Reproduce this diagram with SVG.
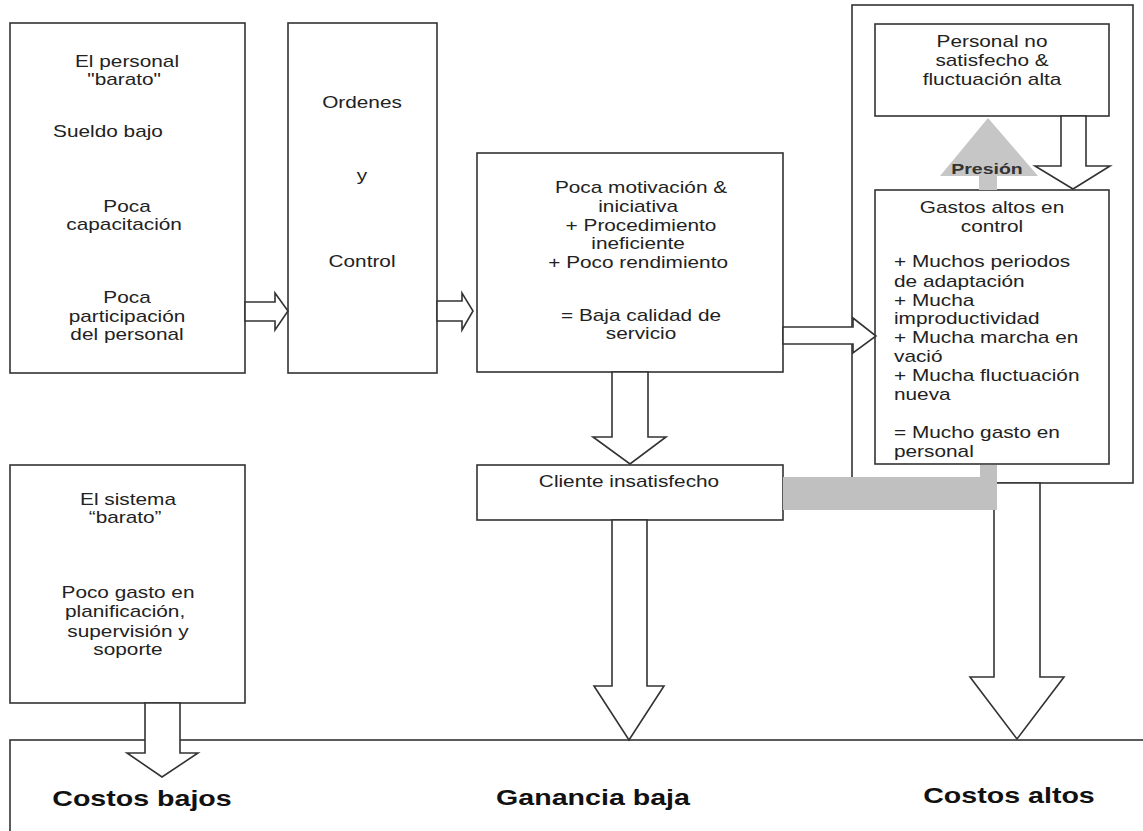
<svg xmlns="http://www.w3.org/2000/svg" width="1143" height="831" viewBox="0 0 1143 831">
<style>
.box{fill:#fff;stroke:#333;stroke-width:1.6}
.arr{fill:#fff;stroke:#333;stroke-width:1.6;stroke-linejoin:miter}
.gray{fill:#c0c0c0;stroke:none}
.t{font-family:"Liberation Sans",Arial,sans-serif;font-size:16px;fill:#222}
.b{font-family:"Liberation Sans",Arial,sans-serif;font-size:22px;font-weight:bold;fill:#111}
.p{font-family:"Liberation Sans",Arial,sans-serif;font-size:15px;font-weight:bold;fill:#333}
</style>
<rect width="1143" height="831" fill="#fff"/>

<g id="resultado">
<rect class="box" x="10" y="740" width="1145" height="100"/>
<g transform="translate(142 0) scale(1.3 1)"><text class="b" text-anchor="middle" x="0" y="806">Costos bajos</text></g>
<g transform="translate(593 0) scale(1.3 1)"><text class="b" text-anchor="middle" x="0" y="805">Ganancia baja</text></g>
<g transform="translate(1009 0) scale(1.3 1)"><text class="b" text-anchor="middle" x="0" y="803">Costos altos</text></g>
</g>

<g id="personal-barato">
<rect class="box" x="10" y="23" width="235" height="350"/>
<g transform="translate(127 0) scale(1.3 1)"><text class="t" text-anchor="middle">
<tspan x="0" y="67">El personal</tspan><tspan x="0" y="85">"barato"</tspan>
<tspan x="0" y="212">Poca</tspan><tspan x="0" y="230">capacitación</tspan>
<tspan x="0" y="303">Poca</tspan><tspan x="0" y="322">participación</tspan><tspan x="0" y="340">del personal</tspan>
</text></g>
<g transform="translate(108 0) scale(1.3 1)"><text class="t" text-anchor="middle" x="0" y="137">Sueldo bajo</text></g>
</g>

<g id="ordenes">
<rect class="box" x="288" y="23" width="149" height="350"/>
<g transform="translate(362 0) scale(1.3 1)"><text class="t" text-anchor="middle">
<tspan x="0" y="108">Ordenes</tspan><tspan x="0" y="181">y</tspan><tspan x="0" y="267">Control</tspan>
</text></g>
</g>

<g id="poca-motivacion">
<rect class="box" x="477" y="153" width="306" height="219"/>
<g transform="translate(641 0) scale(1.3 1)"><text class="t" text-anchor="middle">
<tspan x="0" y="193">Poca motivación &amp;</tspan><tspan x="0" y="212">iniciativa</tspan>
<tspan x="0" y="231">+ Procedimiento</tspan><tspan x="0" y="249">ineficiente</tspan>
<tspan x="0" y="268">+ Poco rendimiento</tspan>
<tspan x="0" y="321">= Baja calidad de</tspan><tspan x="0" y="339">servicio</tspan>
</text></g>
</g>

<g id="marco-derecho">
<rect class="box" x="852" y="5" width="281" height="478"/>
</g>

<g id="cliente">
<rect class="box" x="477" y="465" width="306" height="55"/>
<g transform="translate(629 0) scale(1.3 1)"><text class="t" text-anchor="middle" x="0" y="487">Cliente insatisfecho</text></g>
</g>

<g id="personal-no-satisfecho">
<rect class="box" x="875" y="24" width="234" height="92"/>
<g transform="translate(992 0) scale(1.3 1)"><text class="t" text-anchor="middle">
<tspan x="0" y="47">Personal no</tspan><tspan x="0" y="66">satisfecho &amp;</tspan><tspan x="0" y="85">fluctuación alta</tspan>
</text></g>
</g>

<g id="gastos">
<rect class="box" x="875" y="190" width="234" height="274"/>
<g transform="translate(992 0) scale(1.3 1)"><text class="t" text-anchor="middle">
<tspan x="0" y="213">Gastos altos en</tspan><tspan x="0" y="232">control</tspan>
</text></g>
<g transform="translate(894 0) scale(1.3 1)"><text class="t">
<tspan x="0" y="267">+ Muchos periodos</tspan><tspan x="0" y="287">de adaptación</tspan>
<tspan x="0" y="306">+ Mucha</tspan><tspan x="0" y="324">improductividad</tspan>
<tspan x="0" y="343">+ Mucha marcha en</tspan><tspan x="0" y="362">vació</tspan>
<tspan x="0" y="381">+ Mucha fluctuación</tspan><tspan x="0" y="400">nueva</tspan>
<tspan x="0" y="438">= Mucho gasto en</tspan><tspan x="0" y="457">personal</tspan>
</text></g>
</g>

<g id="sistema-barato">
<rect class="box" x="10" y="465" width="235" height="238"/>
<g transform="translate(128 0) scale(1.3 1)"><text class="t" text-anchor="middle">
<tspan x="0" y="505">El sistema</tspan><tspan x="0" y="523">“barato”</tspan>
<tspan x="0" y="598">Poco gasto en</tspan><tspan x="0" y="617">planificación,</tspan>
<tspan x="0" y="637">supervisión y</tspan><tspan x="0" y="655">soporte</tspan>
</text></g>
</g>

<g id="connectors">
<polygon class="arr" points="245,302 275,302 275,293 288,311 275,330 275,321 245,321"/>
<polygon class="arr" points="437,301 462,301 462,293 473,311 462,330 462,321 437,321"/>
<polygon class="arr" points="612,372 612,437 593,437 630,464 666,437 648,437 648,372"/>
<polygon class="arr" points="783,327 853,327 853,318 876,336 853,353 853,344 783,344"/>
<polygon class="arr" points="1061,116 1061,166 1035,166 1073,189 1110,166 1086,166 1086,116"/>
<polygon class="arr" points="612,520 612,686 594,686 629,740 664,686 647,686 647,520"/>
<polygon class="arr" points="994,483 994,677 970,677 1017,739 1064,677 1040,677 1040,483"/>
<polygon class="arr" points="145,703 145,753 127,753 162,777 198,753 180,753 180,703"/>
<polygon class="gray" points="783,477 980,477 980,465 997,465 997,510 783,510"/>
<polygon fill="#c6c6c6" points="979,190 979,176 940,176 988,118 1038,176 997,176 997,190"/>
<g transform="translate(987 0) scale(1.3 1)"><text class="p" text-anchor="middle" x="0" y="174">Presión</text></g>
</g>
</svg>
